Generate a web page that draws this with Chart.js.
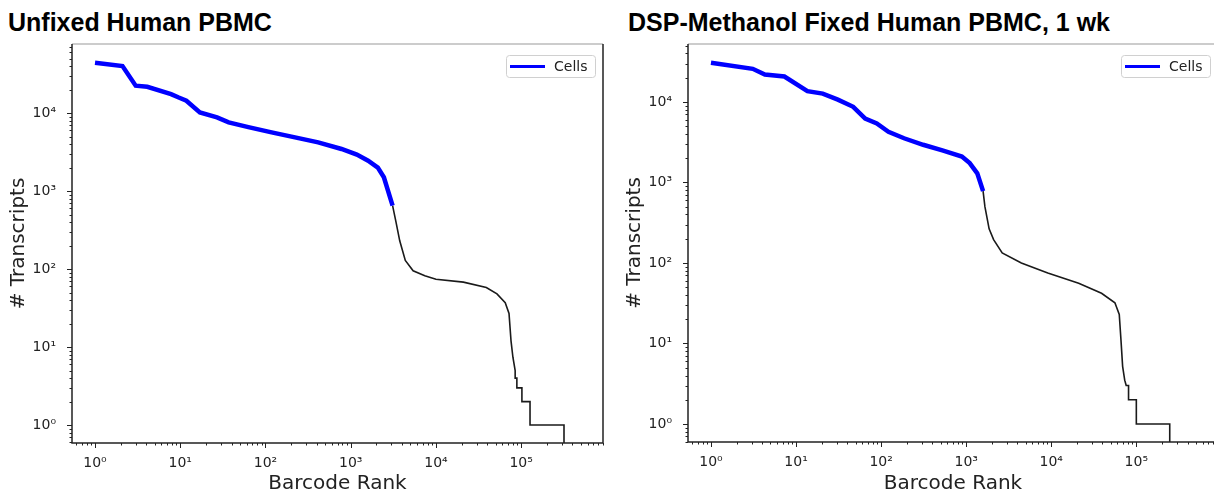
<!DOCTYPE html>
<html>
<head>
<meta charset="utf-8">
<script src="https://cdn.jsdelivr.net/npm/chart.js@4.4.1/dist/chart.umd.min.js"></script>
<style>
  html, body { margin: 0; padding: 0; background: #fff; width: 1214px; height: 493px; overflow: hidden; }
  .panel { position: absolute; top: 0; }
  .title { position: absolute; top: 8px; font: bold 25px "Liberation Sans", Arial, sans-serif; line-height: 29px; color: #000; white-space: nowrap; }
</style>
</head>
<body>
<div class="title" id="title1" style="left:8px"></div>
<div class="title" id="title2" style="left:628px"></div>
<div class="panel" style="left:0"><canvas id="left" width="607" height="493"></canvas></div>
<div class="panel" style="left:607px"><canvas id="right" width="615" height="493"></canvas></div>
<script>
// panel titles and axis text
var panelTitles = ["Unfixed Human PBMC", "DSP-Methanol Fixed Human PBMC, 1 wk"];
var xTitle = "Barcode Rank";
var yTitle = "# Transcripts";
var legendName = "Cells";
var decadeLabels = ["10\u2070", "10\u00b9", "10\u00b2", "10\u00b3", "10\u2074", "10\u2075"];

// left panel: unfixed
var unfixedCellRank  = [1, 2.1, 3.0, 4.1, 7.8, 9.6, 11.8, 17, 27, 37, 63, 118, 222, 415, 780, 1180, 1600, 2080, 2450, 3100];
var unfixedCellCount = [44000, 40000, 22400, 21700, 17500, 15800, 14400, 10200, 8800, 7600, 6600, 5650, 4870, 4200, 3460, 2930, 2450, 2000, 1500, 650];
var unfixedBgRank  = [3100, 3400, 3760, 4370, 5400, 7400, 10000, 21000, 39000, 52000, 65000, 72000, 76000, 80000, 85000, 85000, 89000, 89000, 102000, 102000, 127000, 127000, 318000, 318000];
var unfixedBgCount = [650, 400, 230, 129, 95, 82, 74, 68, 58, 48, 37, 27, 12, 7.4, 5, 4, 4, 3, 3, 2, 2, 1, 1, 0.1];

// right panel: DSP-methanol fixed
var fixedCellRank  = [1, 3.1, 4.3, 7.3, 13.6, 20.6, 31, 47, 65, 89, 122, 186, 312, 525, 890, 1100, 1350, 1580];
var fixedCellCount = [30700, 25800, 21900, 20700, 13600, 12700, 10700, 8700, 6200, 5400, 4260, 3540, 2940, 2500, 2100, 1740, 1300, 780];
var fixedBgRank  = [1580, 1660, 1860, 2100, 2650, 4450, 9100, 21000, 39000, 56000, 63000, 66000, 69000, 73000, 76000, 81000, 81000, 100000, 100000, 247000, 247000];
var fixedBgCount = [780, 500, 265, 195, 133, 100, 75, 56, 42, 32, 23, 11, 5.2, 3.5, 3, 3, 2, 2, 1, 1, 0.1];

document.getElementById("title1").textContent = panelTitles[0];
document.getElementById("title2").textContent = panelTitles[1];

function pts(xs, ys) {
  var out = [];
  for (var i = 0; i < xs.length; i++) out.push({x: xs[i], y: ys[i]});
  return out;
}

function decadeLabel(value) {
  var e = Math.log10(value);
  var r = Math.round(e);
  if (Math.abs(e - r) < 1e-9 && r >= 0 && r < decadeLabels.length) return decadeLabels[r];
  return "";
}

// tick marks, frame and the legend in the top right corner
var decorations = {
  id: "decorations",
  afterDatasetsDraw: function(chart) {
    var ctx = chart.ctx, a = chart.chartArea;
    ctx.save();
    ctx.strokeStyle = "#222";
    ctx.lineWidth = 1;
    ["x", "y"].forEach(function(id) {
      var s = chart.scales[id];
      var lo = Math.floor(Math.log10(s.min)), hi = Math.ceil(Math.log10(s.max));
      for (var n = lo; n <= hi; n++) {
        for (var m = 1; m <= 9; m++) {
          var v = m * Math.pow(10, n);
          if (v < s.min || v > s.max) continue;
          var p = Math.round(s.getPixelForValue(v)) + 0.5;
          var len = m === 1 ? 5 : 2.5;
          ctx.beginPath();
          if (id === "x") { ctx.moveTo(p, a.bottom); ctx.lineTo(p, a.bottom + len); }
          else { ctx.moveTo(a.left, p); ctx.lineTo(a.left - len, p); }
          ctx.stroke();
        }
      }
    });
    ctx.lineWidth = 1.5;
    ctx.strokeStyle = "#bbb";
    ctx.beginPath(); ctx.moveTo(a.left, a.top); ctx.lineTo(a.right, a.top); ctx.stroke();
    ctx.strokeStyle = "#222";
    ctx.beginPath();
    ctx.moveTo(a.right, a.top); ctx.lineTo(a.right, a.bottom);
    ctx.lineTo(a.left, a.bottom); ctx.lineTo(a.left, a.top);
    ctx.stroke();
    ctx.restore();
  },
  afterDraw: function(chart) {
    var ctx = chart.ctx, a = chart.chartArea;
    var ds = chart.data.datasets[0];
    var right = a.right - 8, top = a.top + 11;
    ctx.save();
    ctx.fillStyle = "#fff";
    ctx.strokeStyle = "#d0d0d0";
    ctx.lineWidth = 1;
    ctx.beginPath();
    ctx.roundRect(Math.round(right - 89) + 0.5, Math.round(top) + 0.5, 89, 22, 3);
    ctx.fill();
    ctx.stroke();
    ctx.strokeStyle = ds.borderColor;
    ctx.lineWidth = 3;
    ctx.beginPath();
    ctx.moveTo(right - 85, top + 11.5);
    ctx.lineTo(right - 50, top + 11.5);
    ctx.stroke();
    ctx.fillStyle = "#222";
    ctx.font = "14px 'DejaVu Sans'";
    ctx.textBaseline = "middle";
    ctx.fillText(ds.label, right - 41, top + 12);
    ctx.restore();
  }
};

function makeChart(canvasId, cellRank, cellCount, bgRank, bgCount, cfg) {
  var tickFont = {family: "DejaVu Sans", size: 14};
  return new Chart(document.getElementById(canvasId), {
    type: "scatter",
    data: {
      datasets: [{
        label: legendName,
        data: pts(cellRank, cellCount),
        showLine: true,
        borderColor: "#0000ff",
        backgroundColor: "#0000ff",
        borderWidth: 4.5,
        pointRadius: 0,
        order: 0
      }, {
        label: "background",
        data: pts(bgRank, bgCount),
        showLine: true,
        borderColor: "#1a1a1a",
        backgroundColor: "#1a1a1a",
        borderWidth: 1.6,
        pointRadius: 0,
        order: 1
      }]
    },
    options: {
      responsive: false,
      animation: false,
      layout: {padding: {top: 44, right: 2, left: 0, bottom: 0}},
      scales: {
        x: {
          type: "logarithmic",
          min: Math.pow(10, -0.27),
          max: Math.pow(10, 5.96),
          grid: {display: false},
          border: {display: false},
          ticks: {autoSkip: false, maxRotation: 0, padding: 4, font: tickFont, color: "#222", callback: decadeLabel},
          title: {display: true, text: xTitle, font: {family: "DejaVu Sans", size: 20, lineHeight: 0.9}, color: "#222", padding: {top: 0, bottom: 0}},
          afterFit: function(s) { s.height = cfg.xHeight; }
        },
        y: {
          type: "logarithmic",
          min: Math.pow(10, cfg.yMinExp),
          max: Math.pow(10, cfg.yMaxExp),
          grid: {display: false},
          border: {display: false},
          ticks: {autoSkip: false, padding: 8, font: tickFont, color: "#222", callback: decadeLabel},
          title: {display: true, text: yTitle, font: {family: "DejaVu Sans", size: 20, lineHeight: 1.2}, color: "#222", padding: {top: cfg.yTitlePad, bottom: 0}},
          afterFit: function(s) { s.width = cfg.yWidth; }
        }
      },
      plugins: {
        legend: {display: false},
        tooltip: {enabled: false}
      }
    },
    plugins: [decorations]
  });
}

makeChart("left", unfixedCellRank, unfixedCellCount, unfixedBgRank, unfixedBgCount,
  {yMinExp: -0.23, yMaxExp: 4.885, yWidth: 72, xHeight: 50, yTitlePad: 7});
makeChart("right", fixedCellRank, fixedCellCount, fixedBgRank, fixedBgCount,
  {yMinExp: -0.224, yMaxExp: 4.72, yWidth: 81, xHeight: 51, yTitlePad: 16});
</script>
</body>
</html>
